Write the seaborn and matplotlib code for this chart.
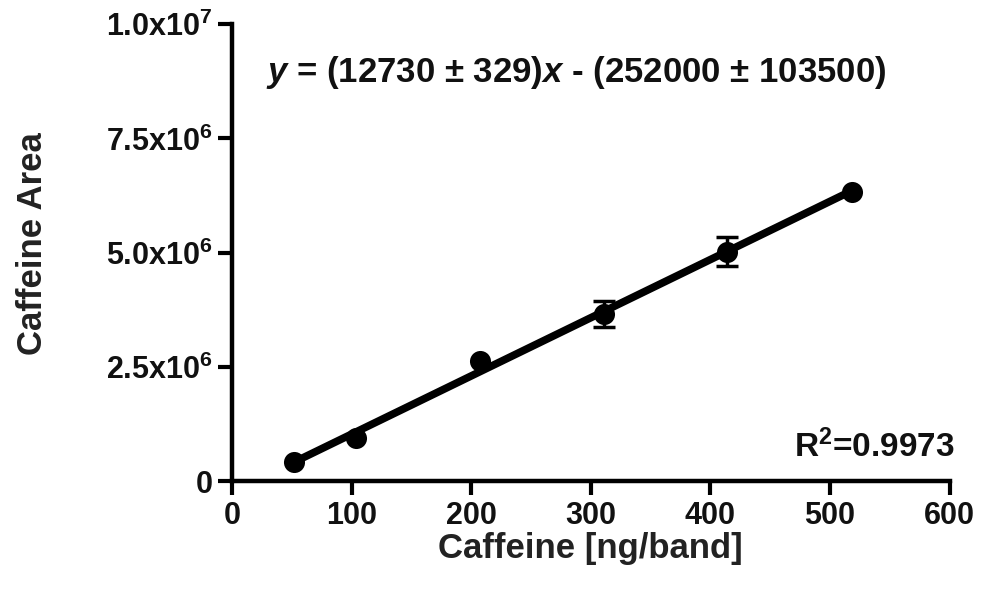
import matplotlib
matplotlib.use("Agg")
import matplotlib.pyplot as plt
import seaborn as sns
import numpy as np
import pandas as pd

# Data
caffeine = [52, 104, 207, 311, 414, 518]
area = [0.42e6, 0.94e6, 2.62e6, 3.66e6, 5.02e6, 6.33e6]
area_err = [0.0, 0.0, 0.0, 0.28e6, 0.32e6, 0.0]
xticks = [0, 100, 200, 300, 400, 500, 600]
yticks = [0, 2.5e6, 5.0e6, 7.5e6, 1.0e7]
ytick_labels = ["0", r"2.5x10$^{6}$", r"5.0x10$^{6}$", r"7.5x10$^{6}$", r"1.0x10$^{7}$"]
equation = r"$\mathit{y}$ = (12730 ± 329)$\mathit{x}$ - (252000 ± 103500)"
r2_text = r"R$^{2}$=0.9973"

sns.set_theme(style="ticks")
plt.rcParams["font.family"] = ["Liberation Sans", "DejaVu Sans"]
plt.rcParams["font.weight"] = "bold"
plt.rcParams["mathtext.fontset"] = "custom"
plt.rcParams["mathtext.rm"] = "Liberation Sans:bold"
plt.rcParams["mathtext.it"] = "Liberation Sans:italic:bold"
plt.rcParams["mathtext.bf"] = "Liberation Sans:bold"

df = pd.DataFrame({"caffeine": caffeine, "area": area, "err": area_err})

fig = plt.figure(figsize=(9.81, 5.89), dpi=100)
ax = fig.add_axes([0.2365, 0.183, 0.7315, 0.776])

sns.regplot(data=df, x="caffeine", y="area", ax=ax, ci=None, truncate=True,
            color="black",
            scatter_kws=dict(s=230, color="black", alpha=1, zorder=3, linewidths=0),
            line_kws=dict(linewidth=5.5, color="black", solid_capstyle="butt", zorder=2))
mask = df["err"] > 0
ax.errorbar(df.loc[mask, "caffeine"], df.loc[mask, "area"], yerr=df.loc[mask, "err"],
            fmt="none", ecolor="black", elinewidth=2.5, capsize=8, capthick=2.5, zorder=4)

ax.set_xlim(0, 600)
ax.set_ylim(0, 1.0e7)
ax.set_xticks(xticks)
ax.set_xticklabels([str(t) for t in xticks])
ax.set_yticks(yticks)
ax.set_yticklabels(ytick_labels)
ax.tick_params(axis="both", labelsize=22, width=3, length=10, direction="out", pad=4,
               color="black", labelcolor="#111111")
for lbl in ax.get_xticklabels() + ax.get_yticklabels():
    lbl.set_fontweight("bold")
for side in ["top", "right"]:
    ax.spines[side].set_visible(False)
for side in ["left", "bottom"]:
    ax.spines[side].set_linewidth(3.2)
    ax.spines[side].set_color("black")

ax.set_xlabel("Caffeine [ng/band]", fontsize=25, fontweight="bold", color="#222222", labelpad=1)
ax.set_ylabel("Caffeine Area", fontsize=25, fontweight="bold", color="#222222")
ax.yaxis.set_label_coords(-0.255, 0.52)

ax.text(288, 8.95e6, equation, fontsize=25, fontweight="bold", ha="center", va="center",
        color="#111111")
ax.text(604, 0.52e6, r2_text, fontsize=24, fontweight="bold", ha="right", va="baseline",
        color="#111111", clip_on=False)

fig.savefig("out.png", dpi=100, facecolor="white")
